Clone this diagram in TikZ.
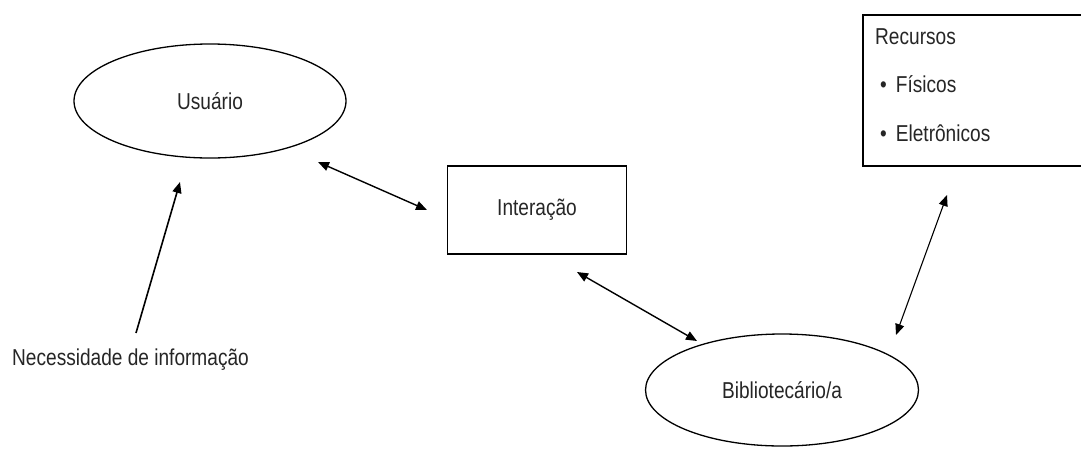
\documentclass[tikz,border=0pt]{standalone}
\usepackage{fontspec}
\setmainfont{Liberation Sans}[FakeStretch=0.83]
\usetikzlibrary{arrows.meta,shapes.geometric}
\begin{document}
\begin{tikzpicture}[x=1pt,y=-1pt,
  every node/.style={font=\fontsize{23}{27}\selectfont, text=black!85},
  oval/.style={draw, ellipse, line width=1.3pt, inner sep=0pt},
  boxed/.style={draw, rectangle, line width=1.3pt, inner sep=0pt},
  link/.style={line width=1.4pt, {Triangle[length=11pt,width=9pt]}-{Triangle[length=11pt,width=9pt]}},
  oneway/.style={line width=1.6pt, -{Triangle[length=11pt,width=9pt]}},
  plain/.style={inner sep=0pt, anchor=base west}]
\useasboundingbox (0,0) rectangle (1081,448);
\fill[white] (0,0) rectangle (1081,448);

% actors and the interaction between them
\node[oval, minimum width=272pt, minimum height=114pt] (usu) at (210,101) {Usuário};
\node[boxed, minimum width=179pt, minimum height=88pt] (int) at (537,210) {Interação};
\node[oval, minimum width=273pt, minimum height=112pt] (bib) at (782,390) {\raisebox{-5pt}{Bibliotecário/a}};

% resources box, running off the right edge
\draw[line width=1.3pt] (1090,15) -- (863,15) -- (863,166) -- (1090,166);
\node[plain] (rec) at (875,44) {Recursos};
\node[plain] (fis) at (880,92) {•\hspace{9pt}Físicos};
\node[plain] (ele) at (880,141) {•\hspace{9pt}Eletrônicos};

% information need
\node[plain] (nec) at (12,365) {Necessidade de informação};

% connector end points
\coordinate (usu-int) at (318,162);
\coordinate (int-usu) at (427,210);
\coordinate (int-bib) at (577,272);
\coordinate (bib-int) at (697,341);
\coordinate (bib-rec) at (896,335);
\coordinate (rec-bib) at (947,195);
\coordinate (nec-top) at (136,333);
\coordinate (usu-nec) at (180,182);

\draw[link] (usu-int) -- (int-usu);
\draw[link] (int-bib) -- (bib-int);
\draw[link, line width=1.1pt] (bib-rec) -- (rec-bib);
\draw[oneway] (nec-top) -- (usu-nec);
\end{tikzpicture}
\end{document}
